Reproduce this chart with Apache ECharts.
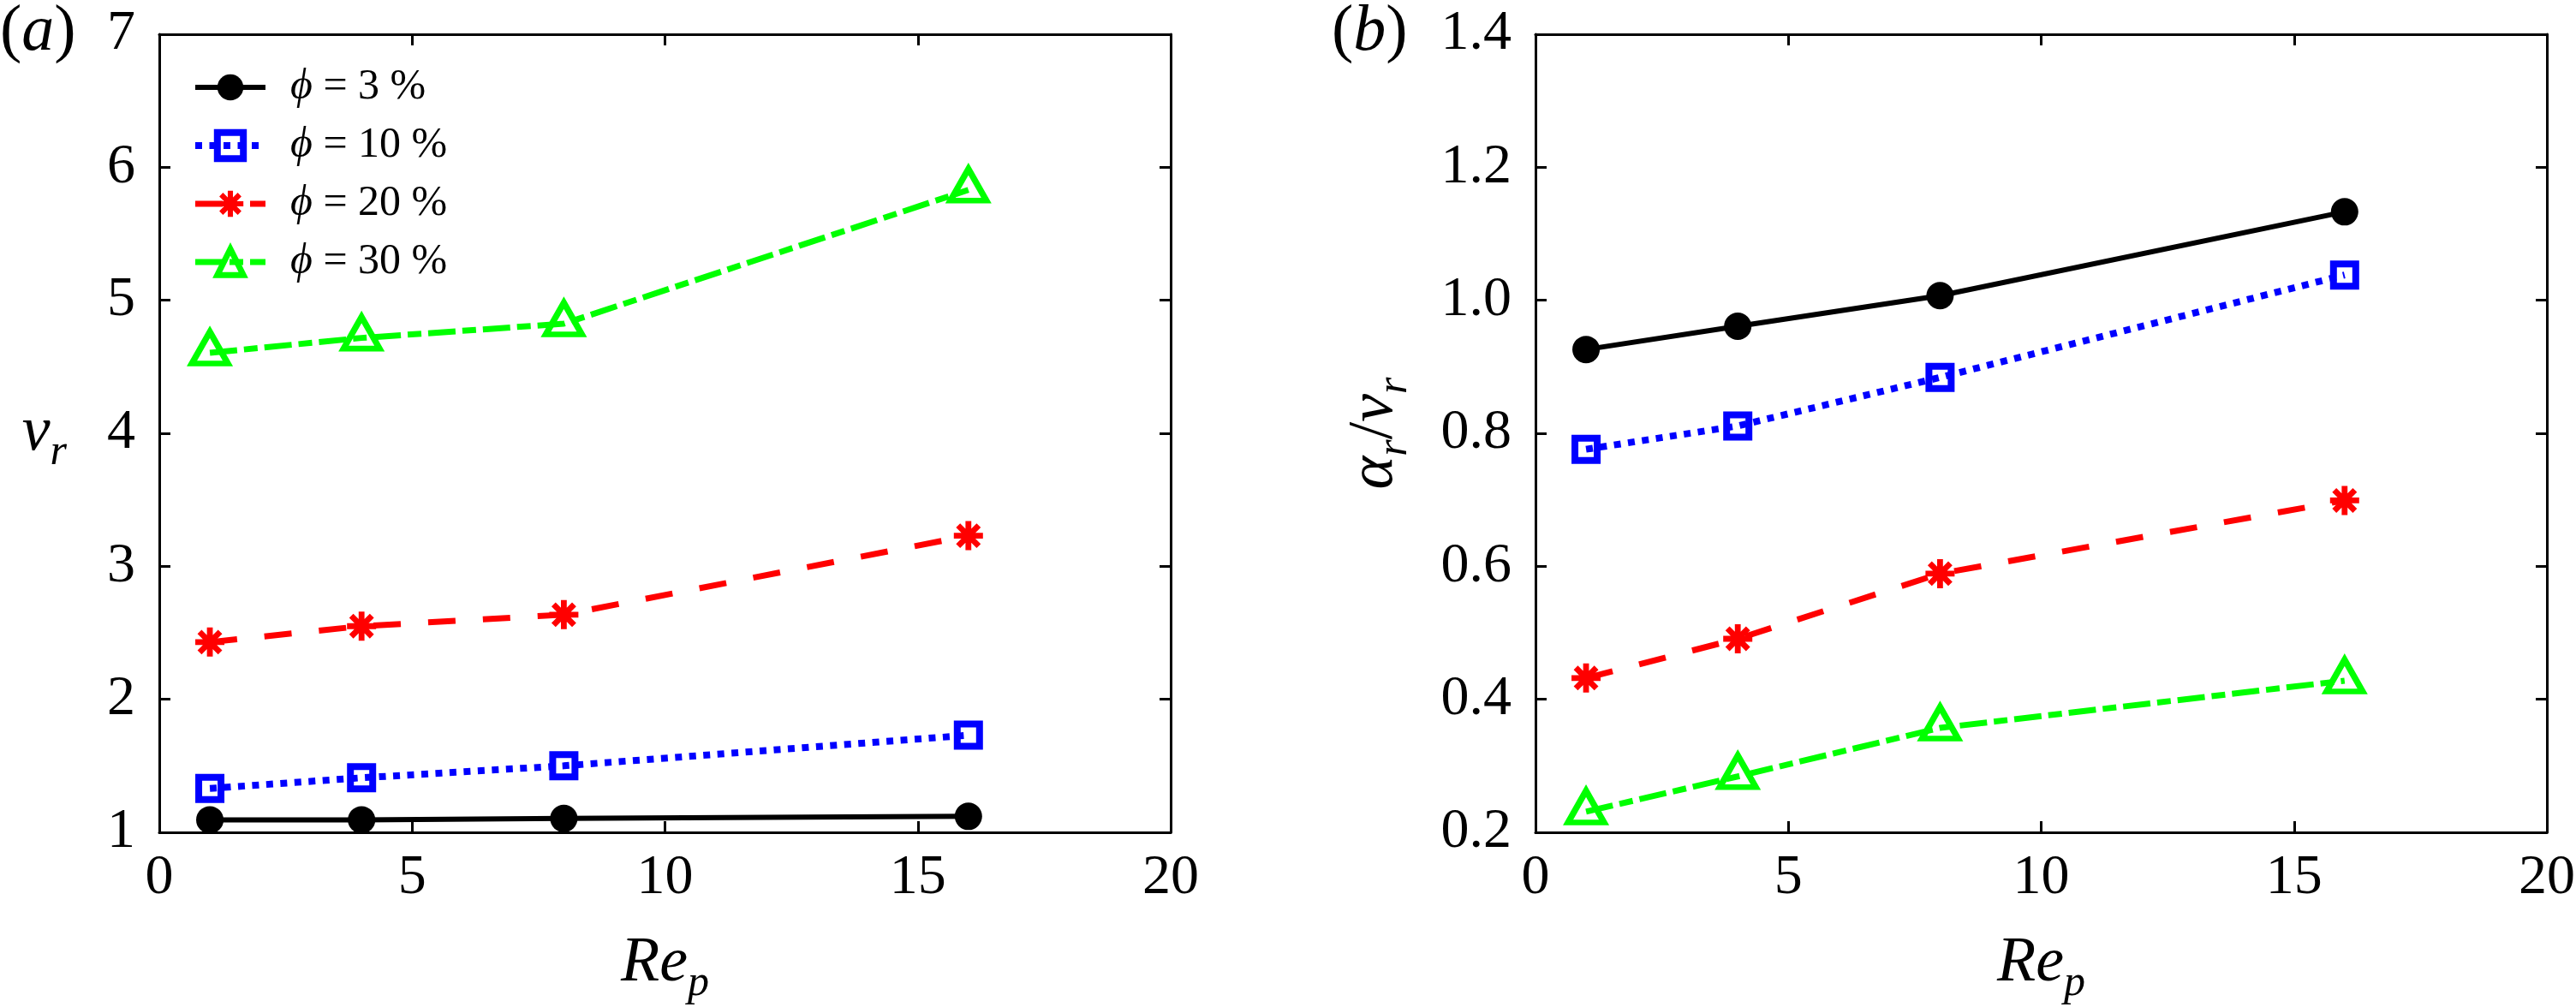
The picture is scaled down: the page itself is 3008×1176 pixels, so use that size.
<!DOCTYPE html>
<html><head><meta charset="utf-8">
<script src="https://cdn.jsdelivr.net/npm/echarts@6/dist/echarts.min.js"></script>
<style>html,body{margin:0;padding:0;background:#fff}#c{width:3008px;height:1176px}</style>
</head><body><div id="c"></div>
<script>
// ---- data ----
const rep = [1, 4, 8, 16];
const seriesNames = ['ϕ = 3 %', 'ϕ = 10 %', 'ϕ = 20 %', 'ϕ = 30 %'];
// panel (a): nu_r
const vr3  = [1.094, 1.094, 1.104, 1.12];
const vr10 = [1.33, 1.41, 1.50, 1.73];
const vr20 = [2.43, 2.55, 2.636, 3.23];
const vr30 = [4.605, 4.717, 4.824, 5.83];
// panel (b): alpha_r / nu_r
const ar3  = [0.926, 0.961, 1.007, 1.133];
const ar10 = [0.776, 0.811, 0.884, 1.038];
const ar20 = [0.432, 0.491, 0.589, 0.699];
const ar30 = [0.231, 0.284, 0.357, 0.428];
// axis ranges
const xRange = [0, 20, 5];
const yRangeA = [1, 7, 1];
const yRangeB = [0.2, 1.4, 0.2];

const F = 'serif';
const ASTER = 'path://M40 0L60 0L60 100L40 100Z M0 40L100 40L100 60L0 60Z M21.7 7.5L92.5 78.3L78.3 92.5L7.5 21.7Z M78.3 7.5L92.5 21.7L21.7 92.5L7.5 78.3Z';

const styles = [
  {symbol: 'circle', symbolSize: 32, itemStyle: {color: '#000'}, lineStyle: {color: '#000', width: 6, type: 'solid'}},
  {symbol: 'rect', symbolSize: 26, itemStyle: {color: 'rgba(0,0,0,0)', borderColor: '#0000ff', borderWidth: 8}, lineStyle: {color: '#0000ff', width: 8, type: [8, 8.5]}},
  {symbol: ASTER, symbolSize: 34, itemStyle: {color: '#ff0000', borderWidth: 0}, lineStyle: {color: '#ff0000', width: 7, type: [32, 32]}},
  {symbol: 'triangle', symbolSize: [42, 37], symbolOffset: [0, -6], itemStyle: {color: 'rgba(0,0,0,0)', borderColor: '#00ff00', borderWidth: 7}, lineStyle: {color: '#00ff00', width: 7, type: [32, 8, 16, 8]}}
];

function pairs(ys) { return rep.map((x, i) => [x, ys[i]]); }

const nameRich = {
  m: {fontFamily: F, fontSize: 74, fontWeight: 'normal', fontStyle: 'italic', color: '#000', lineHeight: 100},
  n: {fontFamily: F, fontSize: 74, fontWeight: 'normal', color: '#000', lineHeight: 100},
  s: {fontFamily: F, fontSize: 50, fontWeight: 'normal', fontStyle: 'italic', color: '#000', padding: [46, 0, 0, 0]}
};

function axLine() { return {show: true, onZero: false, lineStyle: {color: '#000', width: 3}}; }
function axTick() { return {show: true, inside: true, length: 13, lineStyle: {color: '#000', width: 3}}; }

function xAx(grid, pos, labels) {
  const a = {
    type: 'value', gridIndex: grid, position: pos,
    min: xRange[0], max: xRange[1], interval: xRange[2],
    axisLine: axLine(), axisTick: axTick(), splitLine: {show: false},
    axisLabel: {show: labels, color: '#000', fontFamily: F, fontWeight: 'normal', fontSize: 66, margin: 21}
  };
  if (labels) {
    a.name = '{m|Re}{s|p}';
    a.nameLocation = 'middle';
    a.nameGap = 104;
    a.nameTextStyle = {fontFamily: F, fontWeight: 'normal', rich: nameRich};
  }
  return a;
}
function yAx(grid, pos, r, labels, fmt) {
  return {
    type: 'value', gridIndex: grid, position: pos,
    min: r[0], max: r[1], interval: r[2],
    axisLine: axLine(), axisTick: axTick(), splitLine: {show: false},
    axisLabel: {show: labels, color: '#000', fontFamily: F, fontWeight: 'normal', fontSize: 66, margin: 28, formatter: fmt}
  };
}

const yA = yAx(0, 'left', yRangeA, true, v => String(Math.round(v)));
yA.name = '{m|ν}{s|r}'; yA.nameLocation = 'middle'; yA.nameRotate = 0; yA.nameGap = 108;
yA.nameTextStyle = {fontFamily: F, fontWeight: 'normal', rich: nameRich};
const yB = yAx(1, 'left', yRangeB, true, v => v.toFixed(1));
yB.name = '{m|α}{s|r}{n|/}{m|ν}{s|r}'; yB.nameLocation = 'middle'; yB.nameRotate = 90; yB.nameGap = 137;
yB.nameTextStyle = {fontFamily: F, fontWeight: 'normal', rich: nameRich};

const dataA = [vr3, vr10, vr20, vr30];
const dataB = [ar3, ar10, ar20, ar30];
const series = [];
dataA.forEach((d, i) => series.push(Object.assign({type: 'line', name: seriesNames[i], xAxisIndex: 0, yAxisIndex: 0, data: pairs(d), z: 2 + i}, styles[i])));
dataB.forEach((d, i) => series.push(Object.assign({type: 'line', name: seriesNames[i], xAxisIndex: 2, yAxisIndex: 2, data: pairs(d), z: 2 + i}, styles[i])));

const panelRich = {
  p: {fontFamily: F, fontSize: 76, fontWeight: 'normal', color: '#000'},
  i: {fontFamily: F, fontSize: 76, fontWeight: 'normal', fontStyle: 'italic', color: '#000'}
};

const legendData = seriesNames.map((n, i) => ({
  name: n,
  lineStyle: {width: styles[i].lineStyle.width, type: styles[i].lineStyle.type, color: styles[i].lineStyle.color},
  itemStyle: Object.assign({}, styles[i].itemStyle)
}));

const option = {
  animation: false,
  backgroundColor: '#fff',
  textStyle: {fontFamily: F, fontWeight: 'normal'},
  title: [
    {text: '{p|(}{i|a}{p|)}', left: 0, top: 0, padding: 0, textStyle: {fontFamily: F, fontWeight: 'normal', rich: panelRich}},
    {text: '{p|(}{i|b}{p|)}', left: 1555, top: 0, padding: 0, textStyle: {fontFamily: F, fontWeight: 'normal', rich: panelRich}}
  ],
  legend: {
    left: 224, top: 77, orient: 'vertical', padding: 0,
    itemWidth: 82, itemHeight: 38, itemGap: 18,
    data: legendData,
    formatter: n => '{g|}{i|ϕ}{n|' + n.slice(1) + '}',
    textStyle: {
      fontFamily: F, fontWeight: 'normal', fontSize: 50, lineHeight: 38, color: '#000',
      rich: {
        g: {width: 24, fontSize: 50, lineHeight: 38},
        i: {fontFamily: F, fontWeight: 'normal', fontStyle: 'italic', fontSize: 50, lineHeight: 38, color: '#000'},
        n: {fontFamily: F, fontWeight: 'normal', fontSize: 50, lineHeight: 38, color: '#000'}
      }
    }
  },
  grid: [
    {left: 186, top: 40, width: 1181, height: 932, outerBoundsMode: 'none', containLabel: false},
    {left: 1793, top: 40, width: 1181, height: 932, outerBoundsMode: 'none', containLabel: false}
  ],
  xAxis: [xAx(0, 'bottom', true), xAx(0, 'top', false), xAx(1, 'bottom', true), xAx(1, 'top', false)],
  yAxis: [yA, yAx(0, 'right', yRangeA, false), yB, yAx(1, 'right', yRangeB, false)],
  series: series
};

const chart = echarts.init(document.getElementById('c'), null, {renderer: 'canvas'});
chart.setOption(option);
</script></body></html>
